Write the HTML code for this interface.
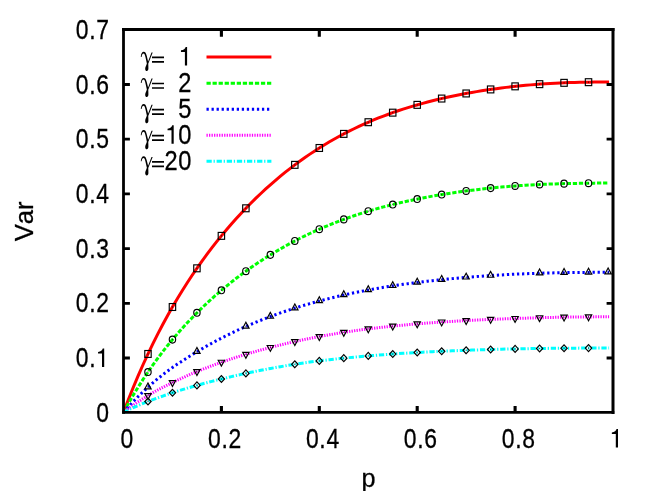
<!DOCTYPE html>
<html><head><meta charset="utf-8"><title>plot</title>
<style>
html,body{margin:0;padding:0;background:#fff;}
svg{display:block;will-change:transform;}
text{font-family:"Liberation Sans",sans-serif;fill:#000;font-kerning:none;stroke:#000;stroke-width:0.3px;}
.g{font-family:"Liberation Serif",serif;}
</style></head><body>
<svg width="654" height="491" viewBox="0 0 654 491">
<rect width="654" height="491" fill="#fff"/>
<polyline points="123.50,412.30 128.40,399.50 133.31,387.29 138.21,375.64 143.12,364.51 148.02,353.86 152.93,343.66 157.83,333.88 162.74,324.50 167.64,315.50 172.55,306.84 177.45,298.51 182.36,290.49 187.26,282.76 192.17,275.30 197.07,268.11 201.98,261.16 206.88,254.45 211.79,247.96 216.69,241.69 221.60,235.62 226.50,229.74 231.41,224.05 236.31,218.54 241.22,213.21 246.12,208.04 251.03,203.04 255.93,198.19 260.84,193.50 265.74,188.95 270.65,184.55 275.55,180.29 280.46,176.17 285.36,172.18 290.27,168.32 295.17,164.59 300.08,160.98 304.98,157.49 309.89,154.13 314.79,150.88 319.70,147.74 324.60,144.71 329.51,141.79 334.41,138.98 339.32,136.27 344.22,133.66 349.12,131.14 354.03,128.73 358.93,126.40 363.84,124.16 368.74,122.01 373.65,119.94 378.55,117.96 383.46,116.05 388.36,114.22 393.27,112.46 398.17,110.78 403.08,109.16 407.98,107.61 412.89,106.12 417.79,104.69 422.70,103.32 427.60,102.01 432.51,100.76 437.41,99.55 442.32,98.40 447.22,97.29 452.13,96.24 457.03,95.22 461.94,94.26 466.84,93.33 471.75,92.45 476.65,91.61 481.56,90.81 486.46,90.05 491.37,89.32 496.27,88.64 501.18,87.99 506.08,87.38 510.99,86.81 515.89,86.27 520.80,85.77 525.70,85.30 530.61,84.87 535.51,84.47 540.42,84.11 545.32,83.78 550.23,83.49 555.13,83.22 560.04,82.99 564.94,82.79 569.84,82.62 574.75,82.47 579.65,82.35 584.56,82.25 589.46,82.16 594.37,82.09 599.27,82.02 604.18,81.96 609.08,81.88" fill="none" stroke="#ff0000" stroke-width="3" stroke-linejoin="round"/>
<polyline points="123.50,412.30 128.40,403.46 133.31,395.04 138.21,387.00 143.12,379.31 148.02,371.96 152.93,364.92 157.83,358.17 162.74,351.69 167.64,345.47 172.55,339.48 177.45,333.73 182.36,328.18 187.26,322.83 192.17,317.67 197.07,312.69 201.98,307.87 206.88,303.22 211.79,298.72 216.69,294.37 221.60,290.16 226.50,286.08 231.41,282.13 236.31,278.30 241.22,274.59 246.12,271.00 251.03,267.52 255.93,264.15 260.84,260.89 265.74,257.73 270.65,254.66 275.55,251.70 280.46,248.83 285.36,246.05 290.27,243.37 295.17,240.77 300.08,238.26 304.98,235.83 309.89,233.49 314.79,231.22 319.70,229.04 324.60,226.93 329.51,224.89 334.41,222.93 339.32,221.04 344.22,219.22 349.12,217.47 354.03,215.78 358.93,214.16 363.84,212.59 368.74,211.09 373.65,209.64 378.55,208.25 383.46,206.91 388.36,205.63 393.27,204.40 398.17,203.21 403.08,202.07 407.98,200.98 412.89,199.93 417.79,198.92 422.70,197.95 427.60,197.02 432.51,196.13 437.41,195.28 442.32,194.46 447.22,193.68 452.13,192.93 457.03,192.21 461.94,191.52 466.84,190.86 471.75,190.24 476.65,189.64 481.56,189.08 486.46,188.54 491.37,188.03 496.27,187.55 501.18,187.09 506.08,186.67 510.99,186.27 515.89,185.90 520.80,185.56 525.70,185.24 530.61,184.96 535.51,184.69 540.42,184.46 545.32,184.24 550.23,184.06 555.13,183.89 560.04,183.75 564.94,183.62 569.84,183.51 574.75,183.42 579.65,183.34 584.56,183.27 589.46,183.20 594.37,183.13 599.27,183.05 604.18,182.97 609.08,182.86" fill="none" stroke="#00ff00" stroke-width="3" stroke-linejoin="round" stroke-dasharray="4.25 1.8"/>
<polyline points="123.50,412.30 128.40,406.80 133.31,401.55 138.21,396.54 143.12,391.75 148.02,387.17 152.93,382.80 157.83,378.66 162.74,374.73 167.64,371.00 172.55,367.46 177.45,364.07 182.36,360.83 187.26,357.70 192.17,354.66 197.07,351.67 201.98,348.75 206.88,345.92 211.79,343.19 216.69,340.55 221.60,338.00 226.50,335.53 231.41,333.13 236.31,330.81 241.22,328.56 246.12,326.39 251.03,324.28 255.93,322.24 260.84,320.26 265.74,318.34 270.65,316.48 275.55,314.68 280.46,312.94 285.36,311.26 290.27,309.63 295.17,308.05 300.08,306.52 304.98,305.05 309.89,303.62 314.79,302.25 319.70,300.92 324.60,299.64 329.51,298.40 334.41,297.20 339.32,296.05 344.22,294.93 349.12,293.86 354.03,292.82 358.93,291.82 363.84,290.86 368.74,289.93 373.65,289.04 378.55,288.18 383.46,287.35 388.36,286.56 393.27,285.79 398.17,285.05 403.08,284.35 407.98,283.66 412.89,283.01 417.79,282.38 422.70,281.78 427.60,281.19 432.51,280.64 437.41,280.10 442.32,279.59 447.22,279.09 452.13,278.62 457.03,278.17 461.94,277.73 466.84,277.32 471.75,276.92 476.65,276.55 481.56,276.19 486.46,275.84 491.37,275.52 496.27,275.21 501.18,274.92 506.08,274.65 510.99,274.39 515.89,274.15 520.80,273.93 525.70,273.73 530.61,273.54 535.51,273.37 540.42,273.21 545.32,273.07 550.23,272.95 555.13,272.84 560.04,272.74 564.94,272.65 569.84,272.58 574.75,272.52 579.65,272.47 584.56,272.42 589.46,272.39 594.37,272.36 599.27,272.33 604.18,272.30 609.08,272.27" fill="none" stroke="#0000ff" stroke-width="3" stroke-linejoin="round" stroke-dasharray="2.27 2.77"/>
<polyline points="123.50,412.30 128.40,408.64 133.31,405.14 138.21,401.80 143.12,398.61 148.02,395.56 152.93,392.67 157.83,389.96 162.74,387.40 167.64,384.96 172.55,382.56 177.45,380.21 182.36,377.94 187.26,375.74 192.17,373.61 197.07,371.56 201.98,369.56 206.88,367.63 211.79,365.77 216.69,363.96 221.60,362.21 226.50,360.52 231.41,358.87 236.31,357.28 241.22,355.74 246.12,354.24 251.03,352.78 255.93,351.37 260.84,350.01 265.74,348.68 270.65,347.39 275.55,346.14 280.46,344.93 285.36,343.75 290.27,342.61 295.17,341.50 300.08,340.43 304.98,339.40 309.89,338.40 314.79,337.43 319.70,336.50 324.60,335.60 329.51,334.73 334.41,333.89 339.32,333.07 344.22,332.29 349.12,331.54 354.03,330.82 358.93,330.13 363.84,329.47 368.74,328.84 373.65,328.24 378.55,327.67 383.46,327.11 388.36,326.58 393.27,326.07 398.17,325.58 403.08,325.12 407.98,324.67 412.89,324.24 417.79,323.82 422.70,323.43 427.60,323.05 432.51,322.69 437.41,322.34 442.32,322.00 447.22,321.68 452.13,321.38 457.03,321.09 461.94,320.81 466.84,320.54 471.75,320.28 476.65,320.04 481.56,319.81 486.46,319.58 491.37,319.37 496.27,319.17 501.18,318.98 506.08,318.80 510.99,318.63 515.89,318.47 520.80,318.31 525.70,318.16 530.61,318.01 535.51,317.86 540.42,317.72 545.32,317.59 550.23,317.47 555.13,317.36 560.04,317.25 564.94,317.16 569.84,317.08 574.75,317.01 579.65,316.96 584.56,316.92 589.46,316.89 594.37,316.87 599.27,316.85 604.18,316.83 609.08,316.81" fill="none" stroke="#ff00ff" stroke-width="3" stroke-linejoin="round" stroke-dasharray="1.26 1.26"/>
<polyline points="123.50,412.30 128.40,409.93 133.31,407.67 138.21,405.52 143.12,403.46 148.02,401.49 152.93,399.60 157.83,397.79 162.74,396.04 167.64,394.36 172.55,392.73 177.45,391.16 182.36,389.64 187.26,388.17 192.17,386.74 197.07,385.35 201.98,384.00 206.88,382.69 211.79,381.41 216.69,380.16 221.60,378.95 226.50,377.77 231.41,376.61 236.31,375.49 241.22,374.40 246.12,373.33 251.03,372.29 255.93,371.28 260.84,370.30 265.74,369.35 270.65,368.43 275.55,367.53 280.46,366.67 285.36,365.83 290.27,365.02 295.17,364.25 300.08,363.50 304.98,362.79 309.89,362.11 314.79,361.46 319.70,360.84 324.60,360.25 329.51,359.69 334.41,359.14 339.32,358.61 344.22,358.10 349.12,357.62 354.03,357.14 358.93,356.69 363.84,356.26 368.74,355.84 373.65,355.44 378.55,355.05 383.46,354.68 388.36,354.32 393.27,353.98 398.17,353.65 403.08,353.34 407.98,353.04 412.89,352.75 417.79,352.47 422.70,352.20 427.60,351.95 432.51,351.70 437.41,351.47 442.32,351.25 447.22,351.03 452.13,350.83 457.03,350.63 461.94,350.44 466.84,350.26 471.75,350.09 476.65,349.93 481.56,349.77 486.46,349.62 491.37,349.48 496.27,349.35 501.18,349.22 506.08,349.10 510.99,348.99 515.89,348.89 520.80,348.79 525.70,348.70 530.61,348.61 535.51,348.54 540.42,348.47 545.32,348.40 550.23,348.35 555.13,348.29 560.04,348.25 564.94,348.21 569.84,348.18 574.75,348.15 579.65,348.12 584.56,348.10 589.46,348.09 594.37,348.07 599.27,348.06 604.18,348.05 609.08,348.03" fill="none" stroke="#00ffff" stroke-width="3" stroke-linejoin="round" stroke-dasharray="5.26 1.8 1.26 1.8"/>
<g fill="none" stroke="#000" stroke-width="1.15" stroke-linejoin="miter">
<rect x="144.78" y="350.51" width="6.40" height="6.90"/>
<rect x="147.47" y="353.31" width="1" height="1.3" fill="#000" stroke="none" opacity="0.7"/>
<rect x="169.25" y="303.56" width="6.40" height="6.90"/>
<rect x="171.95" y="306.36" width="1" height="1.3" fill="#000" stroke="none" opacity="0.7"/>
<rect x="193.73" y="264.87" width="6.40" height="6.90"/>
<rect x="196.43" y="267.67" width="1" height="1.3" fill="#000" stroke="none" opacity="0.7"/>
<rect x="218.20" y="232.41" width="6.40" height="6.90"/>
<rect x="220.90" y="235.21" width="1" height="1.3" fill="#000" stroke="none" opacity="0.7"/>
<rect x="242.68" y="204.85" width="6.40" height="6.90"/>
<rect x="245.38" y="207.65" width="1" height="1.3" fill="#000" stroke="none" opacity="0.7"/>
<rect x="291.62" y="161.40" width="6.40" height="6.90"/>
<rect x="294.32" y="164.20" width="1" height="1.3" fill="#000" stroke="none" opacity="0.7"/>
<rect x="316.10" y="144.54" width="6.40" height="6.90"/>
<rect x="318.80" y="147.34" width="1" height="1.3" fill="#000" stroke="none" opacity="0.7"/>
<rect x="340.57" y="130.44" width="6.40" height="6.90"/>
<rect x="343.27" y="133.24" width="1" height="1.3" fill="#000" stroke="none" opacity="0.7"/>
<rect x="365.05" y="118.77" width="6.40" height="6.90"/>
<rect x="367.75" y="121.57" width="1" height="1.3" fill="#000" stroke="none" opacity="0.7"/>
<rect x="389.53" y="109.21" width="6.40" height="6.90"/>
<rect x="392.23" y="112.01" width="1" height="1.3" fill="#000" stroke="none" opacity="0.7"/>
<rect x="414.00" y="101.41" width="6.40" height="6.90"/>
<rect x="416.70" y="104.21" width="1" height="1.3" fill="#000" stroke="none" opacity="0.7"/>
<rect x="438.48" y="95.10" width="6.40" height="6.90"/>
<rect x="441.18" y="97.90" width="1" height="1.3" fill="#000" stroke="none" opacity="0.7"/>
<rect x="462.95" y="90.01" width="6.40" height="6.90"/>
<rect x="465.65" y="92.81" width="1" height="1.3" fill="#000" stroke="none" opacity="0.7"/>
<rect x="487.43" y="85.98" width="6.40" height="6.90"/>
<rect x="490.12" y="88.78" width="1" height="1.3" fill="#000" stroke="none" opacity="0.7"/>
<rect x="511.90" y="82.90" width="6.40" height="6.90"/>
<rect x="514.60" y="85.70" width="1" height="1.3" fill="#000" stroke="none" opacity="0.7"/>
<rect x="536.38" y="80.72" width="6.40" height="6.90"/>
<rect x="539.08" y="83.52" width="1" height="1.3" fill="#000" stroke="none" opacity="0.7"/>
<rect x="560.85" y="79.38" width="6.40" height="6.90"/>
<rect x="563.55" y="82.18" width="1" height="1.3" fill="#000" stroke="none" opacity="0.7"/>
<rect x="585.32" y="78.73" width="6.40" height="6.90"/>
<rect x="588.02" y="81.53" width="1" height="1.3" fill="#000" stroke="none" opacity="0.7"/>
<ellipse cx="147.97" cy="372.03" rx="3.20" ry="3.45"/>
<rect x="147.47" y="371.38" width="1" height="1.3" fill="#000" stroke="none" opacity="0.7"/>
<ellipse cx="172.45" cy="339.60" rx="3.20" ry="3.45"/>
<rect x="171.95" y="338.95" width="1" height="1.3" fill="#000" stroke="none" opacity="0.7"/>
<ellipse cx="196.93" cy="312.84" rx="3.20" ry="3.45"/>
<rect x="196.43" y="312.19" width="1" height="1.3" fill="#000" stroke="none" opacity="0.7"/>
<ellipse cx="221.40" cy="290.32" rx="3.20" ry="3.45"/>
<rect x="220.90" y="289.67" width="1" height="1.3" fill="#000" stroke="none" opacity="0.7"/>
<ellipse cx="245.88" cy="271.18" rx="3.20" ry="3.45"/>
<rect x="245.38" y="270.53" width="1" height="1.3" fill="#000" stroke="none" opacity="0.7"/>
<ellipse cx="270.35" cy="254.85" rx="3.20" ry="3.45"/>
<rect x="269.85" y="254.20" width="1" height="1.3" fill="#000" stroke="none" opacity="0.7"/>
<ellipse cx="294.82" cy="240.95" rx="3.20" ry="3.45"/>
<rect x="294.32" y="240.30" width="1" height="1.3" fill="#000" stroke="none" opacity="0.7"/>
<ellipse cx="319.30" cy="229.21" rx="3.20" ry="3.45"/>
<rect x="318.80" y="228.56" width="1" height="1.3" fill="#000" stroke="none" opacity="0.7"/>
<ellipse cx="343.77" cy="219.38" rx="3.20" ry="3.45"/>
<rect x="343.27" y="218.73" width="1" height="1.3" fill="#000" stroke="none" opacity="0.7"/>
<ellipse cx="368.25" cy="211.24" rx="3.20" ry="3.45"/>
<rect x="367.75" y="210.59" width="1" height="1.3" fill="#000" stroke="none" opacity="0.7"/>
<ellipse cx="392.73" cy="204.53" rx="3.20" ry="3.45"/>
<rect x="392.23" y="203.88" width="1" height="1.3" fill="#000" stroke="none" opacity="0.7"/>
<ellipse cx="417.20" cy="199.04" rx="3.20" ry="3.45"/>
<rect x="416.70" y="198.39" width="1" height="1.3" fill="#000" stroke="none" opacity="0.7"/>
<ellipse cx="441.68" cy="194.57" rx="3.20" ry="3.45"/>
<rect x="441.18" y="193.92" width="1" height="1.3" fill="#000" stroke="none" opacity="0.7"/>
<ellipse cx="466.15" cy="190.95" rx="3.20" ry="3.45"/>
<rect x="465.65" y="190.30" width="1" height="1.3" fill="#000" stroke="none" opacity="0.7"/>
<ellipse cx="490.62" cy="188.10" rx="3.20" ry="3.45"/>
<rect x="490.12" y="187.45" width="1" height="1.3" fill="#000" stroke="none" opacity="0.7"/>
<ellipse cx="515.10" cy="185.96" rx="3.20" ry="3.45"/>
<rect x="514.60" y="185.31" width="1" height="1.3" fill="#000" stroke="none" opacity="0.7"/>
<ellipse cx="539.58" cy="184.49" rx="3.20" ry="3.45"/>
<rect x="539.08" y="183.84" width="1" height="1.3" fill="#000" stroke="none" opacity="0.7"/>
<ellipse cx="564.05" cy="183.64" rx="3.20" ry="3.45"/>
<rect x="563.55" y="182.99" width="1" height="1.3" fill="#000" stroke="none" opacity="0.7"/>
<ellipse cx="588.52" cy="183.21" rx="3.20" ry="3.45"/>
<rect x="588.02" y="182.56" width="1" height="1.3" fill="#000" stroke="none" opacity="0.7"/>
<path d="M147.97 383.01 l-3.20 5.87 h6.40 z"/>
<rect x="147.47" y="386.56" width="1" height="1.3" fill="#000" stroke="none" opacity="0.7"/>
<path d="M196.93 347.55 l-3.20 5.87 h6.40 z"/>
<rect x="196.43" y="351.11" width="1" height="1.3" fill="#000" stroke="none" opacity="0.7"/>
<path d="M245.88 322.29 l-3.20 5.87 h6.40 z"/>
<rect x="245.38" y="325.85" width="1" height="1.3" fill="#000" stroke="none" opacity="0.7"/>
<path d="M270.35 312.38 l-3.20 5.87 h6.40 z"/>
<rect x="269.85" y="315.94" width="1" height="1.3" fill="#000" stroke="none" opacity="0.7"/>
<path d="M294.82 303.95 l-3.20 5.87 h6.40 z"/>
<rect x="294.32" y="307.51" width="1" height="1.3" fill="#000" stroke="none" opacity="0.7"/>
<path d="M319.30 296.82 l-3.20 5.87 h6.40 z"/>
<rect x="318.80" y="300.37" width="1" height="1.3" fill="#000" stroke="none" opacity="0.7"/>
<path d="M343.77 290.82 l-3.20 5.87 h6.40 z"/>
<rect x="343.27" y="294.38" width="1" height="1.3" fill="#000" stroke="none" opacity="0.7"/>
<path d="M368.25 285.82 l-3.20 5.87 h6.40 z"/>
<rect x="367.75" y="289.37" width="1" height="1.3" fill="#000" stroke="none" opacity="0.7"/>
<path d="M392.73 281.67 l-3.20 5.87 h6.40 z"/>
<rect x="392.23" y="285.22" width="1" height="1.3" fill="#000" stroke="none" opacity="0.7"/>
<path d="M417.20 278.25 l-3.20 5.87 h6.40 z"/>
<rect x="416.70" y="281.80" width="1" height="1.3" fill="#000" stroke="none" opacity="0.7"/>
<path d="M441.68 275.44 l-3.20 5.87 h6.40 z"/>
<rect x="441.18" y="279.00" width="1" height="1.3" fill="#000" stroke="none" opacity="0.7"/>
<path d="M466.15 273.17 l-3.20 5.87 h6.40 z"/>
<rect x="465.65" y="276.73" width="1" height="1.3" fill="#000" stroke="none" opacity="0.7"/>
<path d="M490.62 271.36 l-3.20 5.87 h6.40 z"/>
<rect x="490.12" y="274.92" width="1" height="1.3" fill="#000" stroke="none" opacity="0.7"/>
<path d="M539.58 269.03 l-3.20 5.87 h6.40 z"/>
<rect x="539.08" y="272.59" width="1" height="1.3" fill="#000" stroke="none" opacity="0.7"/>
<path d="M564.05 268.46 l-3.20 5.87 h6.40 z"/>
<rect x="563.55" y="272.02" width="1" height="1.3" fill="#000" stroke="none" opacity="0.7"/>
<path d="M588.52 268.18 l-3.20 5.87 h6.40 z"/>
<rect x="588.02" y="271.74" width="1" height="1.3" fill="#000" stroke="none" opacity="0.7"/>
<path d="M608.11 268.07 l-3.20 5.87 h6.40 z"/>
<rect x="607.61" y="271.63" width="1" height="1.3" fill="#000" stroke="none" opacity="0.7"/>
<path d="M147.97 399.45 l-3.20 -5.87 h6.40 z"/>
<rect x="147.47" y="394.94" width="1" height="1.3" fill="#000" stroke="none" opacity="0.7"/>
<path d="M172.45 386.47 l-3.20 -5.87 h6.40 z"/>
<rect x="171.95" y="381.96" width="1" height="1.3" fill="#000" stroke="none" opacity="0.7"/>
<path d="M196.93 375.48 l-3.20 -5.87 h6.40 z"/>
<rect x="196.43" y="370.97" width="1" height="1.3" fill="#000" stroke="none" opacity="0.7"/>
<path d="M221.40 366.14 l-3.20 -5.87 h6.40 z"/>
<rect x="220.90" y="361.63" width="1" height="1.3" fill="#000" stroke="none" opacity="0.7"/>
<path d="M245.88 358.18 l-3.20 -5.87 h6.40 z"/>
<rect x="245.38" y="353.66" width="1" height="1.3" fill="#000" stroke="none" opacity="0.7"/>
<path d="M270.35 351.33 l-3.20 -5.87 h6.40 z"/>
<rect x="269.85" y="346.82" width="1" height="1.3" fill="#000" stroke="none" opacity="0.7"/>
<path d="M294.82 345.44 l-3.20 -5.87 h6.40 z"/>
<rect x="294.32" y="340.93" width="1" height="1.3" fill="#000" stroke="none" opacity="0.7"/>
<path d="M319.30 340.44 l-3.20 -5.87 h6.40 z"/>
<rect x="318.80" y="335.92" width="1" height="1.3" fill="#000" stroke="none" opacity="0.7"/>
<path d="M343.77 336.23 l-3.20 -5.87 h6.40 z"/>
<rect x="343.27" y="331.71" width="1" height="1.3" fill="#000" stroke="none" opacity="0.7"/>
<path d="M368.25 332.77 l-3.20 -5.87 h6.40 z"/>
<rect x="367.75" y="328.25" width="1" height="1.3" fill="#000" stroke="none" opacity="0.7"/>
<path d="M392.73 329.99 l-3.20 -5.87 h6.40 z"/>
<rect x="392.23" y="325.48" width="1" height="1.3" fill="#000" stroke="none" opacity="0.7"/>
<path d="M417.20 327.74 l-3.20 -5.87 h6.40 z"/>
<rect x="416.70" y="323.22" width="1" height="1.3" fill="#000" stroke="none" opacity="0.7"/>
<path d="M441.68 325.91 l-3.20 -5.87 h6.40 z"/>
<rect x="441.18" y="321.40" width="1" height="1.3" fill="#000" stroke="none" opacity="0.7"/>
<path d="M466.15 324.44 l-3.20 -5.87 h6.40 z"/>
<rect x="465.65" y="319.93" width="1" height="1.3" fill="#000" stroke="none" opacity="0.7"/>
<path d="M490.62 323.27 l-3.20 -5.87 h6.40 z"/>
<rect x="490.12" y="318.75" width="1" height="1.3" fill="#000" stroke="none" opacity="0.7"/>
<path d="M515.10 322.36 l-3.20 -5.87 h6.40 z"/>
<rect x="514.60" y="317.84" width="1" height="1.3" fill="#000" stroke="none" opacity="0.7"/>
<path d="M539.58 321.61 l-3.20 -5.87 h6.40 z"/>
<rect x="539.08" y="317.10" width="1" height="1.3" fill="#000" stroke="none" opacity="0.7"/>
<path d="M564.05 321.04 l-3.20 -5.87 h6.40 z"/>
<rect x="563.55" y="316.53" width="1" height="1.3" fill="#000" stroke="none" opacity="0.7"/>
<path d="M588.52 320.76 l-3.20 -5.87 h6.40 z"/>
<rect x="588.02" y="316.24" width="1" height="1.3" fill="#000" stroke="none" opacity="0.7"/>
<path d="M147.97 404.96 l-3.20 -3.45 l3.20 -3.45 l3.20 3.45 z"/>
<rect x="147.47" y="400.86" width="1" height="1.3" fill="#000" stroke="none" opacity="0.7"/>
<path d="M172.45 396.22 l-3.20 -3.45 l3.20 -3.45 l3.20 3.45 z"/>
<rect x="171.95" y="392.12" width="1" height="1.3" fill="#000" stroke="none" opacity="0.7"/>
<path d="M196.93 388.84 l-3.20 -3.45 l3.20 -3.45 l3.20 3.45 z"/>
<rect x="196.43" y="384.74" width="1" height="1.3" fill="#000" stroke="none" opacity="0.7"/>
<path d="M221.40 382.45 l-3.20 -3.45 l3.20 -3.45 l3.20 3.45 z"/>
<rect x="220.90" y="378.35" width="1" height="1.3" fill="#000" stroke="none" opacity="0.7"/>
<path d="M245.88 376.83 l-3.20 -3.45 l3.20 -3.45 l3.20 3.45 z"/>
<rect x="245.38" y="372.73" width="1" height="1.3" fill="#000" stroke="none" opacity="0.7"/>
<path d="M294.82 367.75 l-3.20 -3.45 l3.20 -3.45 l3.20 3.45 z"/>
<rect x="294.32" y="363.65" width="1" height="1.3" fill="#000" stroke="none" opacity="0.7"/>
<path d="M319.30 364.34 l-3.20 -3.45 l3.20 -3.45 l3.20 3.45 z"/>
<rect x="318.80" y="360.24" width="1" height="1.3" fill="#000" stroke="none" opacity="0.7"/>
<path d="M343.77 361.60 l-3.20 -3.45 l3.20 -3.45 l3.20 3.45 z"/>
<rect x="343.27" y="357.50" width="1" height="1.3" fill="#000" stroke="none" opacity="0.7"/>
<path d="M368.25 359.33 l-3.20 -3.45 l3.20 -3.45 l3.20 3.45 z"/>
<rect x="367.75" y="355.23" width="1" height="1.3" fill="#000" stroke="none" opacity="0.7"/>
<path d="M392.73 357.47 l-3.20 -3.45 l3.20 -3.45 l3.20 3.45 z"/>
<rect x="392.23" y="353.37" width="1" height="1.3" fill="#000" stroke="none" opacity="0.7"/>
<path d="M417.20 355.95 l-3.20 -3.45 l3.20 -3.45 l3.20 3.45 z"/>
<rect x="416.70" y="351.85" width="1" height="1.3" fill="#000" stroke="none" opacity="0.7"/>
<path d="M441.68 354.72 l-3.20 -3.45 l3.20 -3.45 l3.20 3.45 z"/>
<rect x="441.18" y="350.62" width="1" height="1.3" fill="#000" stroke="none" opacity="0.7"/>
<path d="M466.15 353.74 l-3.20 -3.45 l3.20 -3.45 l3.20 3.45 z"/>
<rect x="465.65" y="349.64" width="1" height="1.3" fill="#000" stroke="none" opacity="0.7"/>
<path d="M490.62 352.95 l-3.20 -3.45 l3.20 -3.45 l3.20 3.45 z"/>
<rect x="490.12" y="348.85" width="1" height="1.3" fill="#000" stroke="none" opacity="0.7"/>
<path d="M515.10 352.35 l-3.20 -3.45 l3.20 -3.45 l3.20 3.45 z"/>
<rect x="514.60" y="348.25" width="1" height="1.3" fill="#000" stroke="none" opacity="0.7"/>
<path d="M539.58 351.93 l-3.20 -3.45 l3.20 -3.45 l3.20 3.45 z"/>
<rect x="539.08" y="347.83" width="1" height="1.3" fill="#000" stroke="none" opacity="0.7"/>
<path d="M564.05 351.67 l-3.20 -3.45 l3.20 -3.45 l3.20 3.45 z"/>
<rect x="563.55" y="347.57" width="1" height="1.3" fill="#000" stroke="none" opacity="0.7"/>
<path d="M588.52 351.54 l-3.20 -3.45 l3.20 -3.45 l3.20 3.45 z"/>
<rect x="588.02" y="347.44" width="1" height="1.3" fill="#000" stroke="none" opacity="0.7"/>
</g>
<g stroke="#000" fill="none" stroke-linecap="square">
<path d="M123.5 29.5 V412.4" stroke-width="2.8"/>
<path d="M123.5 412.4 H613.0" stroke-width="2.6"/>
<path d="M123.5 29.5 H613.0" stroke-width="3.0"/>
<path d="M613.0 29.5 V412.4" stroke-width="3.0"/>
</g>
<g stroke="#000" fill="none" stroke-linecap="butt">
<path d="M123.5 358.00 h6.4 M613.0 358.00 h-6.4" stroke-width="2.8"/>
<path d="M123.5 303.30 h6.4 M613.0 303.30 h-6.4" stroke-width="2.8"/>
<path d="M123.5 248.60 h6.4 M613.0 248.60 h-6.4" stroke-width="2.8"/>
<path d="M123.5 193.90 h6.4 M613.0 193.90 h-6.4" stroke-width="2.8"/>
<path d="M123.5 139.20 h6.4 M613.0 139.20 h-6.4" stroke-width="2.8"/>
<path d="M123.5 84.50 h6.4 M613.0 84.50 h-6.4" stroke-width="2.8"/>
<path d="M221.40 412.4 v-6.4 M221.40 29.5 v7.3" stroke-width="3.1"/>
<path d="M319.30 412.4 v-6.4 M319.30 29.5 v7.3" stroke-width="3.1"/>
<path d="M417.20 412.4 v-6.4 M417.20 29.5 v7.3" stroke-width="3.1"/>
<path d="M515.10 412.4 v-6.4 M515.10 29.5 v7.3" stroke-width="3.1"/>
</g>
<text transform="translate(109.70 421.70) scale(0.83 1)" text-anchor="end" font-size="27.6" letter-spacing="0.843">0</text>
<text transform="translate(109.70 367.00) scale(0.83 1)" text-anchor="end" font-size="27.6" letter-spacing="0.843">0.<tspan style="fill:none;stroke:none">1</tspan></text>
<path fill="#000" d="M104.20 366.95 V348.55 H102.75 C102.30 350.45 100.80 351.75 98.05 351.90 V353.55 H102.00 V366.95 Z"/>
<text transform="translate(109.70 312.30) scale(0.83 1)" text-anchor="end" font-size="27.6" letter-spacing="0.843">0.2</text>
<text transform="translate(109.70 257.60) scale(0.83 1)" text-anchor="end" font-size="27.6" letter-spacing="0.843">0.3</text>
<text transform="translate(109.70 202.90) scale(0.83 1)" text-anchor="end" font-size="27.6" letter-spacing="0.843">0.4</text>
<text transform="translate(109.70 148.20) scale(0.83 1)" text-anchor="end" font-size="27.6" letter-spacing="0.843">0.5</text>
<text transform="translate(109.70 93.50) scale(0.83 1)" text-anchor="end" font-size="27.6" letter-spacing="0.843">0.6</text>
<text transform="translate(109.70 38.80) scale(0.83 1)" text-anchor="end" font-size="27.6" letter-spacing="0.843">0.7</text>
<text transform="translate(127.10 447.70) scale(0.83 1)" text-anchor="middle" font-size="27.6" letter-spacing="0.843">0</text>
<text transform="translate(225.00 447.70) scale(0.83 1)" text-anchor="middle" font-size="27.6" letter-spacing="0.843">0.2</text>
<text transform="translate(322.90 447.70) scale(0.83 1)" text-anchor="middle" font-size="27.6" letter-spacing="0.843">0.4</text>
<text transform="translate(420.80 447.70) scale(0.83 1)" text-anchor="middle" font-size="27.6" letter-spacing="0.843">0.6</text>
<text transform="translate(518.70 447.70) scale(0.83 1)" text-anchor="middle" font-size="27.6" letter-spacing="0.843">0.8</text>
<text transform="translate(616.60 447.70) scale(0.83 1)" text-anchor="middle" font-size="27.6" letter-spacing="0.843"><tspan style="fill:none;stroke:none">1</tspan></text>
<path fill="#000" d="M618.00 447.50 V429.10 H616.55 C616.10 431.00 614.60 432.30 611.85 432.45 V434.10 H615.80 V447.50 Z"/>
<text transform="translate(368.40 487.00) scale(0.97 1)" text-anchor="middle" font-size="26.0" letter-spacing="0.000">p</text>
<text transform="translate(33.3 221.35) rotate(-90)" text-anchor="middle" font-size="25.7">Var</text>
<text class="g" x="140.3" y="65.40" font-size="26" style="fill:none;stroke:none">γ=</text>
<path transform="translate(140.3 51.50)" d="M0.5 5.4 C0.6 2.3 1.8 0.3 3.4 0.3 C5.0 0.3 5.8 1.8 6.5 4.6 L7.8 9.9 L11.2 1.0 L12.4 1.0 L7.95 12.2 C8.05 13.8 8.1 15.4 8.1 17.0 C8.1 18.6 7.4 19.5 6.5 19.5 C5.6 19.5 4.9 18.6 4.9 17.2 C4.9 15.4 6.0 13.9 6.55 11.9 L5.2 5.8 C4.7 3.4 4.2 2.0 3.2 2.0 C2.2 2.0 1.5 3.3 1.3 5.4 Z" fill="#000"/>
<path d="M152 57.40 h12 M152 61.90 h12" stroke="#000" stroke-width="1.7" fill="none"/>
<text transform="translate(192.20 65.60) scale(0.875 1)" text-anchor="end" font-size="27.0" letter-spacing="0.800"><tspan style="fill:none;stroke:none">1</tspan></text>
<path fill="#000" d="M187.10 65.40 V47.00 H185.65 C185.20 48.90 183.70 50.20 180.95 50.35 V52.00 H184.90 V65.40 Z"/>
<path d="M206.5 57.10 H271.4" stroke="#ff0000" stroke-width="3" fill="none"/>
<text class="g" x="140.3" y="91.50" font-size="26" style="fill:none;stroke:none">γ=</text>
<path transform="translate(140.3 77.60)" d="M0.5 5.4 C0.6 2.3 1.8 0.3 3.4 0.3 C5.0 0.3 5.8 1.8 6.5 4.6 L7.8 9.9 L11.2 1.0 L12.4 1.0 L7.95 12.2 C8.05 13.8 8.1 15.4 8.1 17.0 C8.1 18.6 7.4 19.5 6.5 19.5 C5.6 19.5 4.9 18.6 4.9 17.2 C4.9 15.4 6.0 13.9 6.55 11.9 L5.2 5.8 C4.7 3.4 4.2 2.0 3.2 2.0 C2.2 2.0 1.5 3.3 1.3 5.4 Z" fill="#000"/>
<path d="M152 83.50 h12 M152 88.00 h12" stroke="#000" stroke-width="1.7" fill="none"/>
<text transform="translate(192.20 91.70) scale(0.875 1)" text-anchor="end" font-size="27.0" letter-spacing="0.800">2</text>
<path d="M206.5 83.15 H271.4" stroke="#00ff00" stroke-width="3" fill="none" stroke-dasharray="4.25 1.8"/>
<text class="g" x="140.3" y="117.60" font-size="26" style="fill:none;stroke:none">γ=</text>
<path transform="translate(140.3 103.70)" d="M0.5 5.4 C0.6 2.3 1.8 0.3 3.4 0.3 C5.0 0.3 5.8 1.8 6.5 4.6 L7.8 9.9 L11.2 1.0 L12.4 1.0 L7.95 12.2 C8.05 13.8 8.1 15.4 8.1 17.0 C8.1 18.6 7.4 19.5 6.5 19.5 C5.6 19.5 4.9 18.6 4.9 17.2 C4.9 15.4 6.0 13.9 6.55 11.9 L5.2 5.8 C4.7 3.4 4.2 2.0 3.2 2.0 C2.2 2.0 1.5 3.3 1.3 5.4 Z" fill="#000"/>
<path d="M152 109.60 h12 M152 114.10 h12" stroke="#000" stroke-width="1.7" fill="none"/>
<text transform="translate(192.20 117.80) scale(0.875 1)" text-anchor="end" font-size="27.0" letter-spacing="0.800">5</text>
<path d="M206.5 109.20 H271.4" stroke="#0000ff" stroke-width="3" fill="none" stroke-dasharray="2.27 2.77"/>
<text class="g" x="140.3" y="143.70" font-size="26" style="fill:none;stroke:none">γ=</text>
<path transform="translate(140.3 129.80)" d="M0.5 5.4 C0.6 2.3 1.8 0.3 3.4 0.3 C5.0 0.3 5.8 1.8 6.5 4.6 L7.8 9.9 L11.2 1.0 L12.4 1.0 L7.95 12.2 C8.05 13.8 8.1 15.4 8.1 17.0 C8.1 18.6 7.4 19.5 6.5 19.5 C5.6 19.5 4.9 18.6 4.9 17.2 C4.9 15.4 6.0 13.9 6.55 11.9 L5.2 5.8 C4.7 3.4 4.2 2.0 3.2 2.0 C2.2 2.0 1.5 3.3 1.3 5.4 Z" fill="#000"/>
<path d="M152 135.70 h12 M152 140.20 h12" stroke="#000" stroke-width="1.7" fill="none"/>
<path fill="#000" d="M173.70 143.70 V125.30 H172.25 C171.80 127.20 170.30 128.50 167.55 128.65 V130.30 H171.50 V143.70 Z"/>
<text transform="translate(192.20 143.90) scale(0.875 1)" text-anchor="end" font-size="27.0" letter-spacing="0.800"><tspan style="fill:none;stroke:none">1</tspan>0</text>
<path d="M206.5 135.25 H271.4" stroke="#ff00ff" stroke-width="3" fill="none" stroke-dasharray="1.26 1.26"/>
<text class="g" x="140.3" y="169.80" font-size="26" style="fill:none;stroke:none">γ=</text>
<path transform="translate(140.3 155.90)" d="M0.5 5.4 C0.6 2.3 1.8 0.3 3.4 0.3 C5.0 0.3 5.8 1.8 6.5 4.6 L7.8 9.9 L11.2 1.0 L12.4 1.0 L7.95 12.2 C8.05 13.8 8.1 15.4 8.1 17.0 C8.1 18.6 7.4 19.5 6.5 19.5 C5.6 19.5 4.9 18.6 4.9 17.2 C4.9 15.4 6.0 13.9 6.55 11.9 L5.2 5.8 C4.7 3.4 4.2 2.0 3.2 2.0 C2.2 2.0 1.5 3.3 1.3 5.4 Z" fill="#000"/>
<path d="M152 161.80 h12 M152 166.30 h12" stroke="#000" stroke-width="1.7" fill="none"/>
<text transform="translate(192.20 170.00) scale(0.875 1)" text-anchor="end" font-size="27.0" letter-spacing="0.800">20</text>
<path d="M206.5 161.30 H271.4" stroke="#00ffff" stroke-width="3" fill="none" stroke-dasharray="5.26 1.8 1.26 1.8"/>
</svg></body></html>
